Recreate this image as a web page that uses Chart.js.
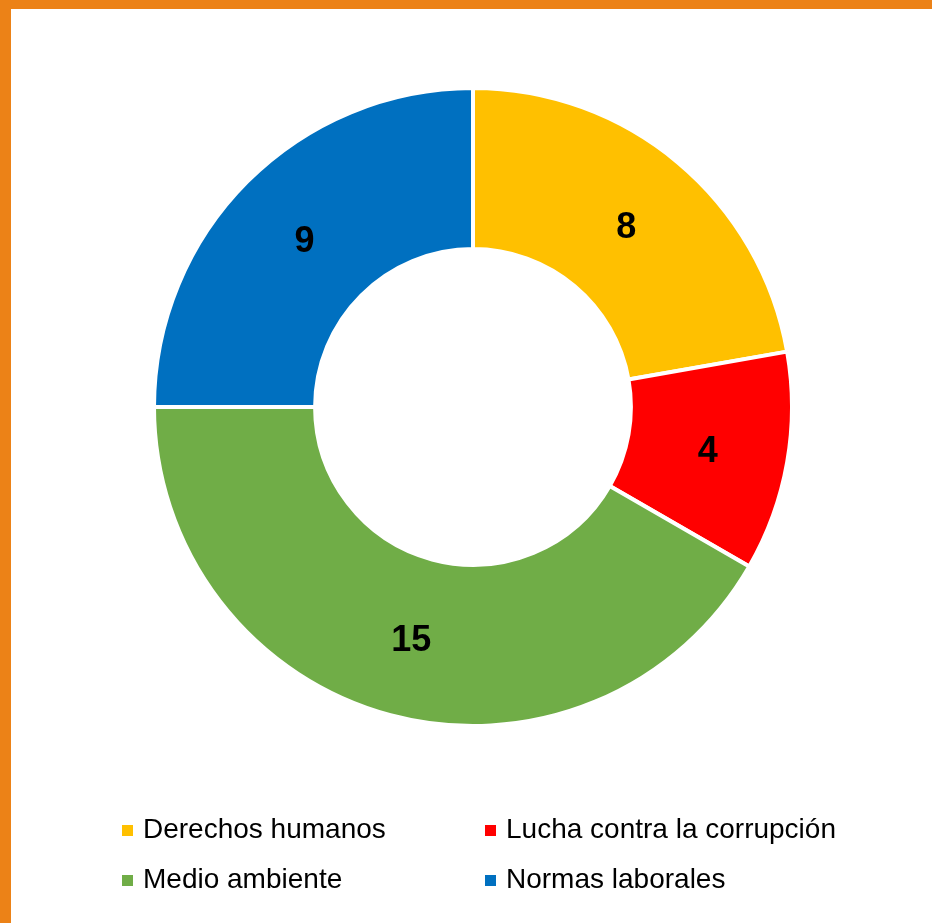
<!DOCTYPE html>
<html lang="es">
<head>
<meta charset="utf-8">
<title>Distribución por tema</title>
<script src="https://cdn.jsdelivr.net/npm/chart.js@4/dist/chart.umd.min.js"></script>
<style>
  html, body { margin: 0; padding: 0; background: #fff; }
  #frame {
    position: absolute; left: 0; top: 0; width: 932px; height: 923px;
    box-sizing: border-box;
    border-top: 9px solid #EC8217;
    border-left: 11px solid #EC8217;
  }
  #chart { position: absolute; left: 0; top: 0; }
  .legend-item {
    position: absolute;
    font-family: "Liberation Sans", Arial, sans-serif;
    font-size: 28px; color: #000;
    line-height: 30px; white-space: nowrap;
  }
  .legend-item .box {
    display: inline-block; width: 11px; height: 11px;
    margin-right: 10px; vertical-align: 2px;
  }
</style>
</head>
<body>
<div id="frame"></div>
<canvas id="chart" width="932" height="923"></canvas>
<div id="legend"></div>
<script>
// Topics and number of cases per topic
const categories = ['Derechos humanos', 'Lucha contra la corrupción', 'Medio ambiente', 'Normas laborales'];
const values = [8, 4, 15, 9];
const colors = ['#FFC000', '#FF0000', '#70AD47', '#0070C0'];

// Value labels in the middle of each ring segment
const segmentLabels = {
  id: 'segmentLabels',
  afterDatasetsDraw(chart) {
    const ctx = chart.ctx;
    const meta = chart.getDatasetMeta(0);
    ctx.save();
    ctx.font = 'bold 36px "Liberation Sans", Arial, sans-serif';
    ctx.fillStyle = '#000';
    ctx.textAlign = 'center';
    ctx.textBaseline = 'middle';
    meta.data.forEach((arc, i) => {
      const p = arc.tooltipPosition();
      ctx.fillText(String(chart.data.datasets[0].data[i]), p.x, p.y + 4);
    });
    ctx.restore();
  }
};

const chart = new Chart(document.getElementById('chart'), {
  type: 'doughnut',
  data: {
    labels: categories,
    datasets: [{
      data: values,
      backgroundColor: colors,
      borderColor: '#FFFFFF',
      borderWidth: 4,
      hoverOffset: 0
    }]
  },
  options: {
    responsive: false,
    animation: false,
    radius: 319,
    cutout: '49.5%',
    layout: { padding: { left: 14, right: 0, top: 0, bottom: 109 } },
    plugins: {
      legend: { display: false },
      tooltip: { enabled: false }
    }
  },
  plugins: [segmentLabels]
});

// Two-column legend built from the chart's own data
const legendEl = document.getElementById('legend');
const colX = [122, 485];
const rowY = [814, 864];
chart.data.labels.forEach((label, i) => {
  const item = document.createElement('div');
  item.className = 'legend-item';
  item.style.left = colX[i % 2] + 'px';
  item.style.top = rowY[Math.floor(i / 2)] + 'px';
  const box = document.createElement('span');
  box.className = 'box';
  box.style.background = chart.data.datasets[0].backgroundColor[i];
  item.appendChild(box);
  item.appendChild(document.createTextNode(label));
  legendEl.appendChild(item);
});
</script>
</body>
</html>
